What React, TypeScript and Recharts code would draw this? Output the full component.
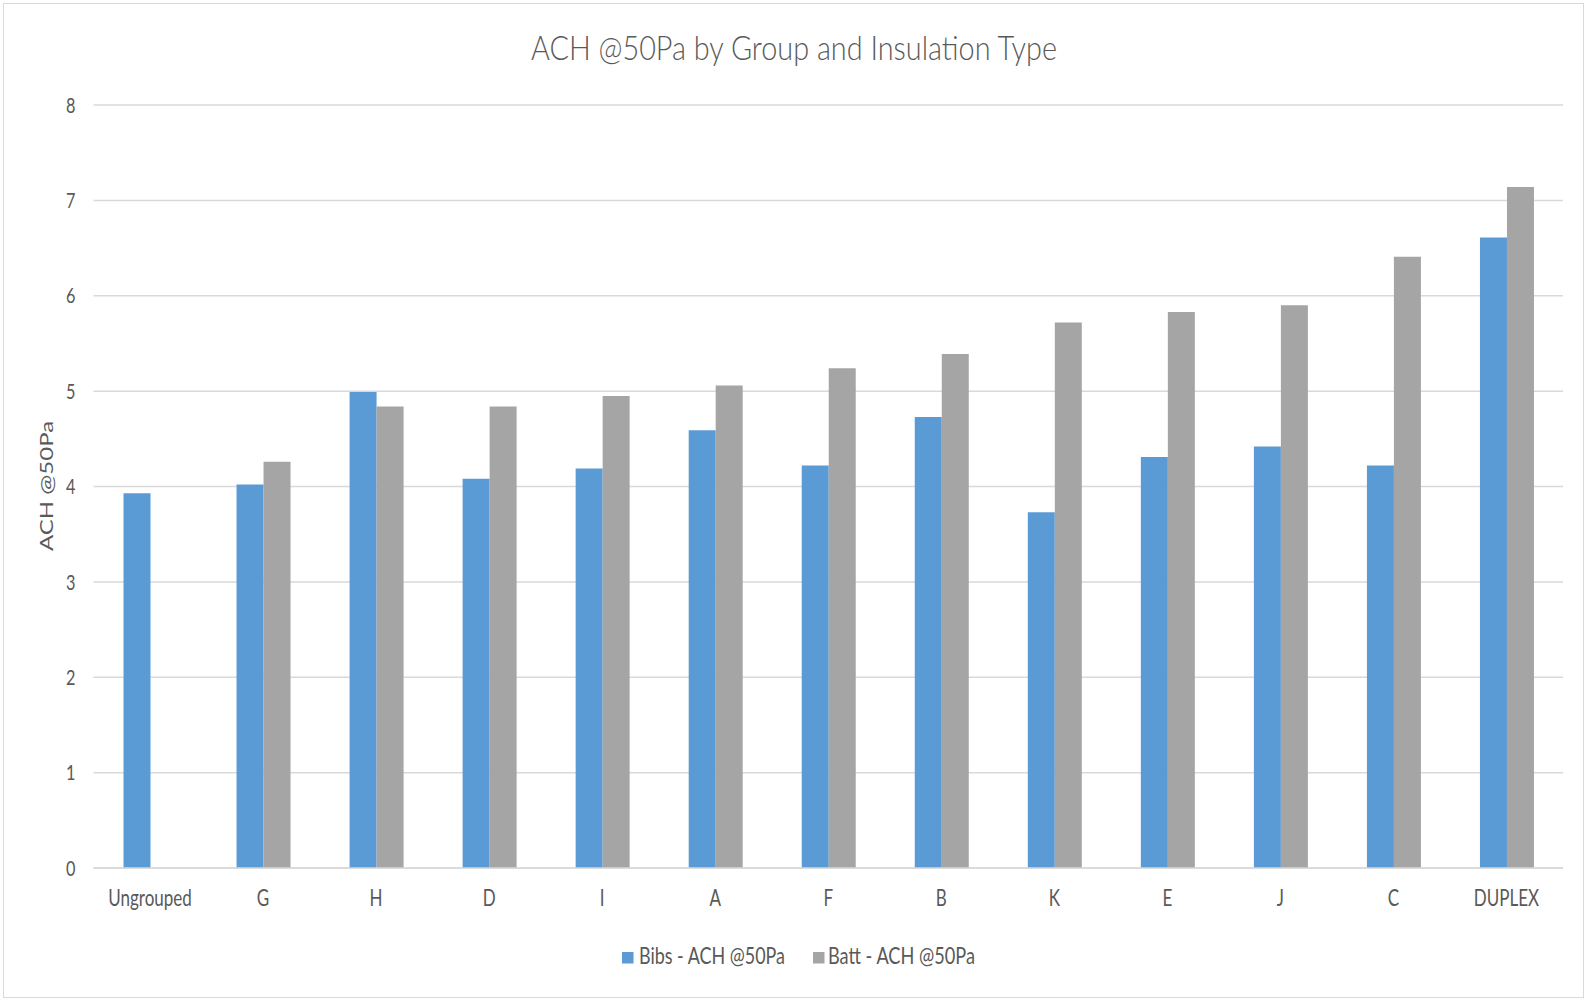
import { BarChart, Bar, XAxis, YAxis, CartesianGrid } from 'recharts';

const categories = ['Ungrouped', 'G', 'H', 'D', 'I', 'A', 'F', 'B', 'K', 'E', 'J', 'C', 'DUPLEX'];
const bibsValues = [3.93, 4.02, 4.99, 4.08, 4.19, 4.59, 4.22, 4.73, 3.73, 4.31, 4.42, 4.22, 6.61];
const battValues = [null, 4.26, 4.84, 4.84, 4.95, 5.06, 5.24, 5.39, 5.72, 5.83, 5.9, 6.41, 7.14];
const yTicks = [0, 1, 2, 3, 4, 5, 6, 7, 8];

const BIBS_COLOR = '#5B9BD5';
const BATT_COLOR = '#A5A5A5';
const TEXT_COLOR = '#595959';
const FONT = 'Lato, "Open Sans", sans-serif';
// the reference glyphs are horizontally squeezed
const SQ = 0.74;

const data = categories.map((name, i) => ({
    name,
    bibs: bibsValues[i],
    batt: battValues[i],
}));

function XTick({ x, y, payload }: { x?: number; y?: number; payload?: { value: string } }) {
    return (
        <g transform={`translate(${x},${(y ?? 0) + 22}) scale(${SQ},1)`}>
            <text textAnchor="middle" dy="0.35em" fill={TEXT_COLOR} fontSize={23} fontFamily={FONT}>
                {payload?.value}
            </text>
        </g>
    );
}

function YTick({ x, y, payload }: { x?: number; y?: number; payload?: { value: number } }) {
    return (
        <g transform={`translate(${(x ?? 0) - 10},${y}) scale(${SQ},1)`}>
            <text textAnchor="end" dy="0.35em" fill={TEXT_COLOR} fontSize={22} fontFamily={FONT}>
                {payload?.value}
            </text>
        </g>
    );
}

function YLabel() {
    return (
        <g transform={`translate(47,486) scale(${SQ},1) rotate(-90)`}>
            <text textAnchor="middle" dy="0.35em" fill={TEXT_COLOR} fontSize={24} fontFamily={FONT}>
                ACH @50Pa
            </text>
        </g>
    );
}

export default function App() {
    return (
        <div style={{ position: 'relative', width: 1586, height: 1000, background: '#fff', fontFamily: FONT }}>
            <style>{'body{margin:0}'}</style>
            <div
                style={{
                    position: 'absolute',
                    left: 3,
                    top: 3,
                    width: 1579,
                    height: 993,
                    border: '1px solid #D9D9D9',
                }}
            />
            <BarChart
                width={1586}
                height={1000}
                data={data}
                margin={{ top: 105, right: 23, bottom: 72, left: 0 }}
                barGap={0}
                barSize={27}
            >
                <CartesianGrid vertical={false} stroke="#D9D9D9" strokeWidth={1.5} />
                <XAxis
                    dataKey="name"
                    height={60}
                    interval={0}
                    tickLine={false}
                    axisLine={{ stroke: '#D9D9D9', strokeWidth: 1.5 }}
                    tick={<XTick />}
                />
                <YAxis
                    width={93.5}
                    domain={[0, 8]}
                    ticks={yTicks}
                    interval={0}
                    axisLine={false}
                    tickLine={false}
                    tick={<YTick />}
                    label={{ content: () => <YLabel /> }}
                />
                <Bar dataKey="bibs" name="Bibs - ACH @50Pa" fill={BIBS_COLOR} isAnimationActive={false} />
                <Bar dataKey="batt" name="Batt - ACH @50Pa" fill={BATT_COLOR} isAnimationActive={false} />
            </BarChart>
            <svg
                width={1586}
                height={1000}
                style={{ position: 'absolute', left: 0, top: 0, pointerEvents: 'none' }}
            >
                <text
                    x={531}
                    y={60}
                    fontSize={33}
                    fontFamily={FONT}
                    fontWeight={300}
                    fill={TEXT_COLOR}
                    textLength={526}
                    lengthAdjust="spacingAndGlyphs"
                >
                    ACH @50Pa by Group and Insulation Type
                </text>
                <rect x={622} y={952} width={11.5} height={11.5} fill={BIBS_COLOR} />
                <text
                    x={639}
                    y={963.5}
                    fontSize={23}
                    fontFamily={FONT}
                    fill={TEXT_COLOR}
                    textLength={146}
                    lengthAdjust="spacingAndGlyphs"
                >
                    Bibs - ACH @50Pa
                </text>
                <rect x={813} y={952} width={11.5} height={11.5} fill={BATT_COLOR} />
                <text
                    x={828}
                    y={963.5}
                    fontSize={23}
                    fontFamily={FONT}
                    fill={TEXT_COLOR}
                    textLength={147}
                    lengthAdjust="spacingAndGlyphs"
                >
                    Batt - ACH @50Pa
                </text>
            </svg>
        </div>
    );
}
